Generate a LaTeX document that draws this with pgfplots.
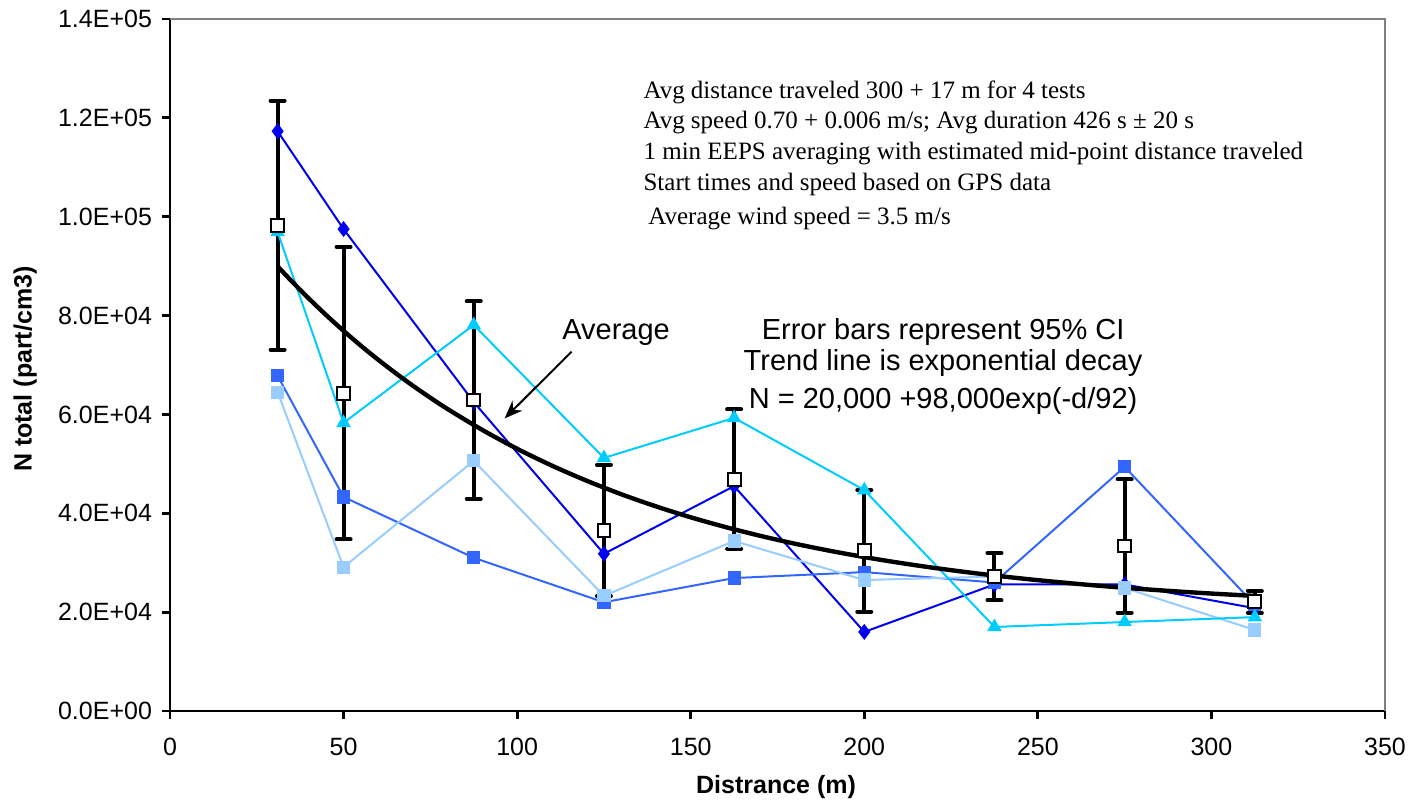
\documentclass[border=0pt]{standalone}
\usepackage{fontspec}
\setmainfont{Liberation Sans}
\newfontfamily\timesfont{Liberation Serif}
\usepackage{pgfplots}
\pgfplotsset{compat=1.18}
\usetikzlibrary{arrows.meta}
\definecolor{dblue}{HTML}{0000F0}
\definecolor{mblue}{HTML}{3366FF}
\definecolor{lblue}{HTML}{99CCFF}
\definecolor{cyanb}{HTML}{00CCFF}
\definecolor{frame}{HTML}{808080}
\begin{document}
\begin{tikzpicture}
\path[use as bounding box] (-85pt,-46.5pt) rectangle (621pt,355.5pt);
\begin{axis}[
  at={(0,0)}, anchor=south west,
  scale only axis, width=607.5pt, height=346pt,
  xmin=0, xmax=350, ymin=0, ymax=140000,
  axis lines=left, axis line style={-, line width=1.4pt, black},
  xtick={0,50,...,350}, ytick={0,20000,...,140000},
  yticklabels={0.0E+00,2.0E+04,4.0E+04,6.0E+04,8.0E+04,1.0E+05,1.2E+05,1.4E+05},
  scaled y ticks=false,
  tick align=outside, major tick length=4pt,
  tick style={line width=1.4pt, black},
  /pgf/number format/assume math mode=true,
  ticklabel style={font=\fontsize{12.5}{15}\selectfont},
  xticklabel style={yshift=-6pt},
  yticklabel style={xshift=-1.5pt},
  xlabel={Distrance (m)}, ylabel={N total (part/cm3)},
  every axis x label/.style={at={(axis description cs:0.4988,-0.1098)}, anchor=center, font=\bfseries\fontsize{12.5}{15}\selectfont},
  every axis y label/.style={at={(axis description cs:-0.1193,0.494)}, anchor=center, rotate=90, font=\bfseries\fontsize{12.5}{15}\selectfont},
  clip=false,
]
\draw[line width=1pt, frame] (rel axis cs:0,1) -- (rel axis cs:1,1) -- (rel axis cs:1,0);

% error bars of the average
\addplot[draw=none, mark=none, forget plot,
  error bars/.cd, y dir=both, y explicit,
  error bar style={draw=black, line width=2pt},
  error mark options={draw=black, line width=2pt, mark size=3.5pt, line cap=round, rotate=90}]
  coordinates {
  (31,98300) +- (0,25200)
  (50,64300) +- (0,29600)
  (87.5,62900) +- (0,20000)
  (125,36500) +- (0,13300)
  (162.5,46900) +- (0,14100)
  (200,32400) +- (0,12300)
  (237.5,27200) +- (0,4800)
  (275,33400) +- (0,13500)
  (312.5,22100) +- (0,2200)
  };

% dark blue diamonds
\addplot[color=dblue, line width=1pt, mark=diamond*, mark size=3.2pt, mark options={fill=dblue, draw=dblue}]
  coordinates {(31,117300) (50,97500) (87.5,62500) (125,31800) (162.5,45500) (200,16000) (237.5,25600) (275,25600) (312.5,20800)};
% medium blue squares
\addplot[color=mblue, line width=1pt, mark=square*, mark size=2.8pt, mark options={fill=mblue, draw=mblue}]
  coordinates {(31,67800) (50,43300) (87.5,31000) (125,22000) (162.5,26900) (200,28100) (237.5,26000) (275,49400) (312.5,21500)};
% light blue squares
\addplot[color=lblue, line width=1pt, mark=square*, mark size=2.8pt, mark options={fill=lblue, draw=lblue}]
  coordinates {(31,64500) (50,29100) (87.5,50600) (125,23300) (162.5,34400) (200,26500) (237.5,27200) (275,24900) (312.5,16400)};
% cyan triangles
\addplot[color=cyanb, line width=1pt, mark=triangle*, mark size=3.2pt, mark options={fill=cyanb, draw=cyanb}]
  coordinates {(31,96900) (50,58300) (87.5,78100) (125,51200) (162.5,59300) (200,44700) (237.5,17000) (275,18000) (312.5,19000)};

% exponential trend line (tabulated values)
\addplot[black, line width=2.2pt, mark=none, smooth]
  coordinates {(31,89960) (35,86993) (40,83445) (45,80094) (50,76909) (55,73900) (60,71048) (65,68353) (70,65795) (75,63375) (80,61075) (90,56848) (100,53050) (110,49645) (120,46597) (130,43853) (140,41394) (150,39188) (160,37219) (170,35445) (180,33847) (190,32426) (200,31143) (210,29996) (220,28967) (230,28043) (240,27213) (250,26470) (260,25807) (270,25204) (280,24675) (290,24194) (300,23763) (312.5,23283)};

% average markers
\addplot[only marks, mark=square*, mark size=3.2pt, mark options={fill=white, draw=black, line width=1pt}]
  coordinates {(31,98300) (50,64300) (87.5,62900) (125,36500) (162.5,46900) (200,32400) (237.5,27200) (275,33400) (312.5,22100)};

% notes
\begin{scope}[every node/.style={inner sep=0pt, font=\timesfont\fontsize{12.5}{15}\selectfont}]
\node[anchor=base west] at (axis cs:136.3,124000) {Avg distance traveled 300 + 17 m for 4 tests};
\node[anchor=base west] at (axis cs:136.3,117900) {Avg speed 0.70 + 0.006 m/s; Avg duration 426 s ± 20 s};
\node[anchor=base west] at (axis cs:136.3,111500) {1 min EEPS averaging with estimated mid-point distance traveled};
\node[anchor=base west] at (axis cs:136.3,105400) {Start times and speed based on GPS data};
\node[anchor=base west] at (axis cs:137.7,98500) {Average wind speed = 3.5 m/s};
\end{scope}
\begin{scope}[every node/.style={inner sep=0pt, anchor=base, font=\fontsize{14.5}{17}\selectfont}]
\node at (axis cs:128.5,75100) {Average};
\node at (axis cs:222.7,75100) {Error bars represent 95\% CI};
\node at (axis cs:222.7,68800) {Trend line is exponential decay};
\node at (axis cs:222.7,61200) {N = 20,000 +98,000exp(-d/92)};
\end{scope}
\draw[-{Stealth[length=9pt,width=7pt]}, line width=1pt] (axis cs:115.7,72700) -- (axis cs:96.4,59200);
\end{axis}
\end{tikzpicture}
\end{document}
